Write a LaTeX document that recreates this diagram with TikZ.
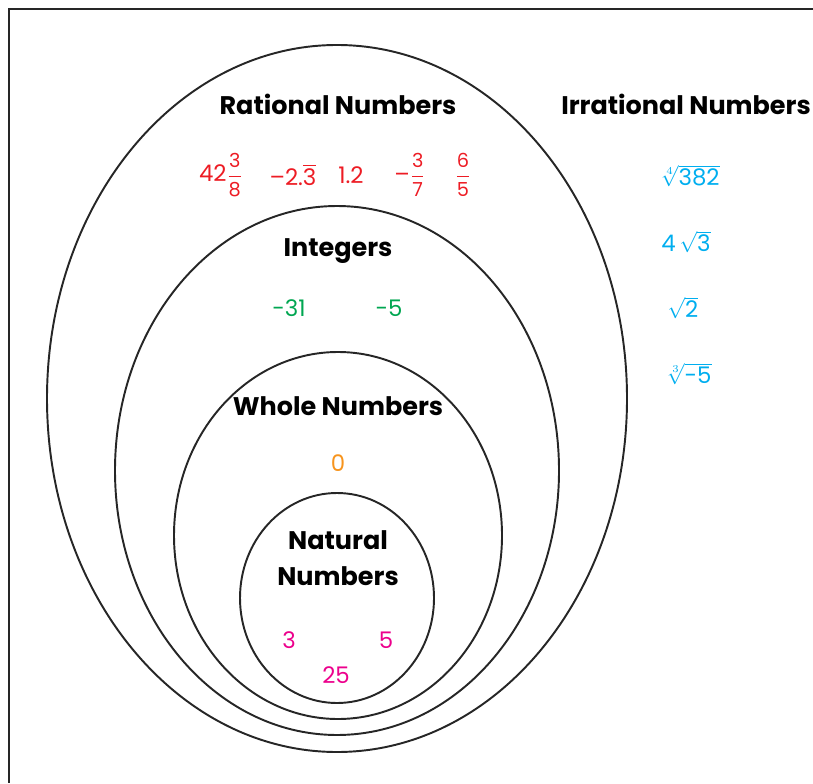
\documentclass[tikz,border=0pt]{standalone}
\usepackage{fontspec}
\setmainfont{Poppins}
\usepackage{amsmath}
\usepackage{tikz}
\usetikzlibrary{positioning}

\definecolor{ratred}{RGB}{237,28,36}
\definecolor{intgreen}{RGB}{0,166,81}
\definecolor{wholeorange}{RGB}{247,148,29}
\definecolor{natpink}{RGB}{236,0,140}
\definecolor{irrblue}{RGB}{0,174,239}

\newcommand{\numfrac}[2]{\ensuremath{\dfrac{\text{\fontsize{11}{11}\selectfont #1}}{\text{\fontsize{11}{11}\selectfont #2}}}}

\begin{document}
\begin{tikzpicture}[
  x=0.02cm, y=-0.02cm,
  setline/.style={draw=black!85, line width=1.1pt},
  settitle/.style={font=\fontsize{14.5}{20.4}\selectfont\bfseries, align=center},
  numtext/.style={font=\fontsize{13}{15}\selectfont, inner sep=1pt},
]
\useasboundingbox (0,0) rectangle (813,783);
\draw[line width=1.5pt, black!85] (813,9) -- (9,9) -- (9,783);

% nested sets
\draw[setline] (337,398.5) ellipse [x radius=290, y radius=353.5];
\draw[setline] (337,470.5) ellipse [x radius=222, y radius=264.5];
\draw[setline] (338,535.5) ellipse [x radius=164, y radius=183.5];
\draw[setline] (337,598) ellipse [x radius=97, y radius=105];

% set names
\node[settitle] (rational) at (338,104) {Rational Numbers};
\node[settitle] (irrational) at (686,104) {Irrational Numbers};
\node[settitle] (integers) at (338,251) {Integers};
\node[settitle] (whole) at (338,406) {Whole Numbers};
\node[settitle] (natural) at (338,558) {Natural\\Numbers};

% rational
\node[numtext, ratred] (r1) at (221,175) {42\numfrac{3}{8}};
\node[numtext, ratred] (r2) at (293,175) {–2.$\overline{\text{3}}$};
\node[numtext, ratred] (r3) at (351,175) {1.2};
\node[numtext, ratred] (r4) at (410,175) {–\numfrac{3}{7}};
\node[numtext, ratred] (r5) at (463,175) {\numfrac{6}{5}};

% integers
\node[numtext, intgreen] (i1) at (289,308) {-31};
\node[numtext, intgreen] (i2) at (389,308) {-5};

% whole
\node[numtext, wholeorange] (w1) at (338,463) {0};

% natural
\node[numtext, natpink] (n1) at (289,640) {3};
\node[numtext, natpink] (n2) at (386,640) {5};
\node[numtext, natpink] (n3) at (336,675) {25};

% irrational
\node[numtext, irrblue] (q1) at (690,176) {$\sqrt[4]{\text{382}}$};
\node[numtext, irrblue] (q2) at (686,242) {4\,$\sqrt{\text{3}}$};
\node[numtext, irrblue] (q3) at (683,308) {$\sqrt{\text{2}}$};
\node[numtext, irrblue] (q4) at (689,374) {$\sqrt[3]{\text{-5}}$};

\end{tikzpicture}
\end{document}
